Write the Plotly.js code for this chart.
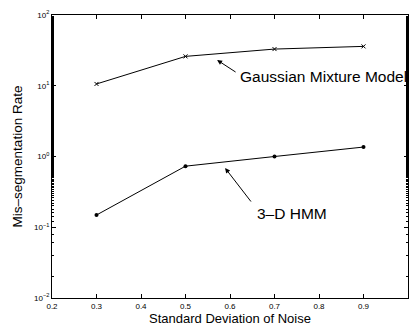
<!DOCTYPE html>
<html><head><meta charset="utf-8">
<script src="https://cdn.plot.ly/plotly-3.0.1.min.js"></script>
<style>body{margin:0;background:#fff}#c{width:409px;height:330px}</style>
</head><body><div id="c"></div>
<script>
const noise = [0.3, 0.5, 0.7, 0.9];
const gmmRate = [10.6, 26, 33, 36];
const hmmRate = [0.149, 0.73, 1.0, 1.36];
const xTicks = [0.2, 0.3, 0.4, 0.5, 0.6, 0.7, 0.8, 0.9];
const yTickVals = [0.01, 0.1, 1, 10, 100];
const yTickText = ['10<sup>−2</sup>', '10<sup>−1</sup>', '10<sup>0</sup>', '10<sup>1</sup>', '10<sup>2</sup>'];

const font = 'Liberation Sans, Arial, sans-serif';
const traces = [
  {x: noise, y: gmmRate, mode: 'lines+markers', line: {color: '#000', width: 1},
   marker: {symbol: 'x-thin', size: 4, line: {color: '#000', width: 1}, color: '#000'}},
  {x: noise, y: hmmRate, mode: 'lines+markers', line: {color: '#000', width: 1},
   marker: {symbol: 'circle', size: 4, color: '#000'}}
];
const layout = {
  width: 409, height: 330, showlegend: false,
  margin: {l: 52, r: 1, t: 15, b: 32},
  paper_bgcolor: '#fff', plot_bgcolor: '#fff',
  font: {family: font, color: '#000'},
  xaxis: {range: [0.2, 1.0], tickvals: xTicks, ticktext: xTicks.map(v => v.toFixed(1)),
    ticks: 'inside', ticklen: 4, tickwidth: 1, tickcolor: '#000', mirror: 'ticks',
    showline: true, linecolor: '#000', linewidth: 1, showgrid: false, zeroline: false,
    tickfont: {size: 8, family: font},
    title: {text: 'Standard Deviation of Noise', font: {size: 13, family: font}, standoff: 2}},
  yaxis: {type: 'log', range: [-2, 2], tickvals: yTickVals, ticktext: yTickText,
    ticks: 'inside', ticklen: 4, tickwidth: 1, tickcolor: '#000', mirror: 'ticks',
    showline: true, linecolor: '#000', linewidth: 1, showgrid: false, zeroline: false,
    tickfont: {size: 8, family: font},
    minor: {ticks: 'inside', ticklen: 2, tickcolor: '#000', showgrid: false},
    title: {text: 'Mis–segmentation Rate', font: {size: 13.5, family: font}, standoff: 8}},
  annotations: [
    {x: 0.571, y: 1.364, xref: 'x', yref: 'y', text: '', showarrow: true, ax: 20, ay: 13,
     arrowhead: 2, arrowsize: 1, arrowwidth: 1, arrowcolor: '#000'},
    {x: 0.617, y: 1.124, xref: 'x', yref: 'y', text: 'Gaussian Mixture Model', showarrow: false,
     xanchor: 'left', yanchor: 'middle', font: {size: 15.5, family: font}},
    {x: 0.589, y: -0.163, xref: 'x', yref: 'y', text: '', showarrow: true, ax: 27, ay: 35,
     arrowhead: 2, arrowsize: 1, arrowwidth: 1, arrowcolor: '#000'},
    {x: 0.656, y: -0.799, xref: 'x', yref: 'y', text: '3–D HMM', showarrow: false,
     xanchor: 'left', yanchor: 'middle', font: {size: 15.5, family: font}}
  ]
};
Plotly.newPlot('c', traces, layout, {displayModeBar: false, staticPlot: true});
</script></body></html>
